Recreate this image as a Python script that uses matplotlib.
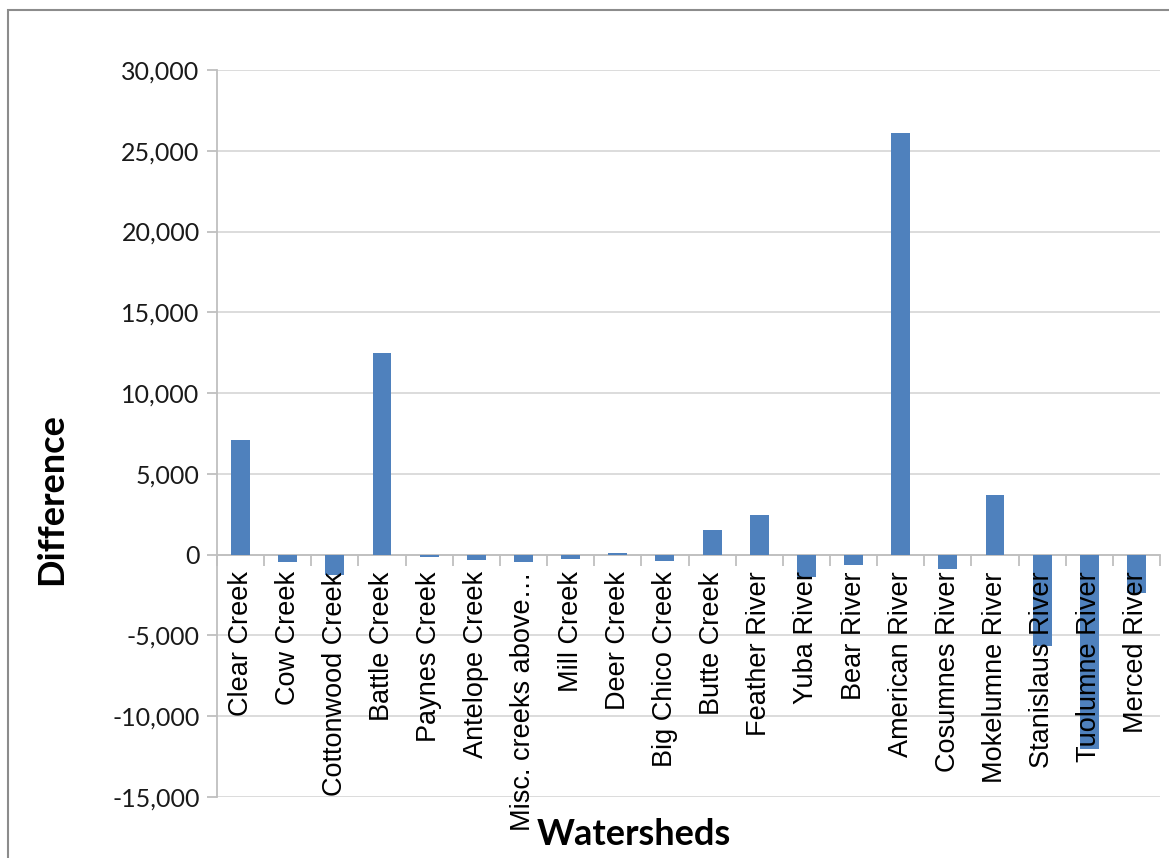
import matplotlib.pyplot as plt
from matplotlib.patches import Rectangle
from matplotlib.ticker import FuncFormatter, FixedLocator
import numpy as np

watersheds = ['Clear Creek', 'Cow Creek', 'Cottonwood Creek', 'Battle Creek',
              'Paynes Creek', 'Antelope Creek', 'Misc. creeks above\u2026',
              'Mill Creek', 'Deer Creek', 'Big Chico Creek', 'Butte Creek',
              'Feather River', 'Yuba River', 'Bear River', 'American River',
              'Cosumnes River', 'Mokelumne River', 'Stanislaus River',
              'Tuolumne River', 'Merced River']
difference = [7100, -480, -1240, 12500, -170, -330, -430, -250, 80, -370,
              1550, 2470, -1380, -640, 26100, -890, 3700, -5670, -12020, -2370]
y_ticks = [-15000, -10000, -5000, 0, 5000, 10000, 15000, 20000, 25000, 30000]

W, H = 1169, 858
fig = plt.figure(figsize=(W / 100, H / 100), dpi=100)
ax = fig.add_axes([217 / W, 1 - 797 / H, (1160 - 217) / W, (797 - 70) / H])

# outer chart frame (only top and left edges fall inside the image)
fig.patches.append(Rectangle((8 / W, -0.1), 1.2, 1 - 10 / H + 0.1,
                             transform=fig.transFigure, fill=False,
                             edgecolor='#8c8c8c', linewidth=1.5))

x = np.arange(len(watersheds))
# gridlines behind the bars, axis labels stay on top
ax.hlines(y_ticks, -0.5, len(watersheds) - 0.5, color='#d9d9d9',
          linewidth=1.3, zorder=0)
ax.bar(x, difference, width=0.4, color='#4F81BD', zorder=1)

ax.set_xlim(-0.5, len(watersheds) - 0.5)
ax.set_ylim(-15000, 30000)
ax.set_yticks(y_ticks)
ax.yaxis.set_major_formatter(FuncFormatter(lambda v, p: f'{int(v):,}'))

for s in ['top', 'right']:
    ax.spines[s].set_visible(False)
ax.spines['left'].set_color('#bfbfbf')
ax.spines['left'].set_linewidth(1.3)
ax.spines['left'].set_zorder(0.5)
ax.spines['bottom'].set_position(('data', 0))
ax.spines['bottom'].set_color('#bfbfbf')
ax.spines['bottom'].set_linewidth(1.3)
ax.spines['bottom'].set_zorder(0.5)

# category boundaries as tick marks, names on minor ticks at bar centres
ax.xaxis.set_major_locator(FixedLocator(np.arange(len(watersheds) + 1) - 0.5))
ax.xaxis.set_major_formatter(FuncFormatter(lambda v, p: ''))
ax.set_xticks(x, minor=True)
ax.set_xticklabels(watersheds, minor=True, rotation=90, va='top', ha='center',
                   fontsize=19.5, family=['Liberation Sans', 'DejaVu Sans'])
ax.tick_params(axis='x', which='major', length=8, color='#bfbfbf', width=1.3)
ax.tick_params(axis='x', which='minor', length=0, pad=12)
ax.tick_params(axis='y', length=7, color='#bfbfbf', width=1.3, pad=5.5)
for lbl in ax.get_yticklabels():
    lbl.set_fontsize(18)
    lbl.set_family('Lato')
    lbl.set_color('#1a1a1a')

ax.set_ylabel('Difference', fontsize=26, fontweight='bold', family='Lato')
ax.yaxis.set_label_coords(-0.158, 0.41)
ax.set_xlabel('Watersheds', fontsize=26, fontweight='bold', family='Lato',
              va='center')
ax.xaxis.set_label_coords(0.442, -0.052)

fig.savefig('out.png', dpi=100)
